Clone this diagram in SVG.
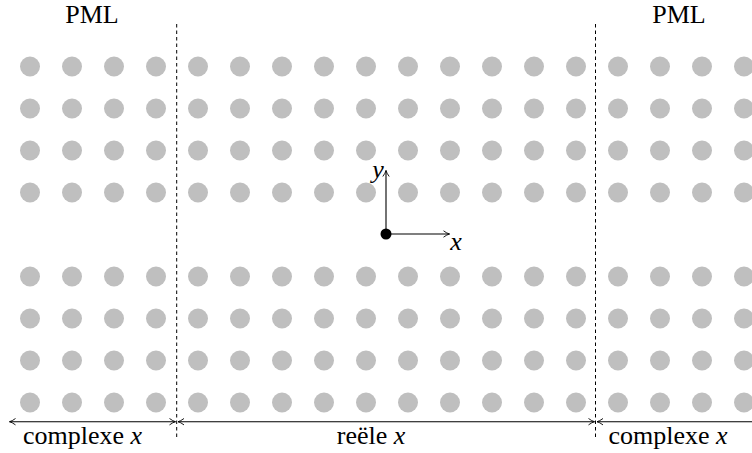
<svg xmlns="http://www.w3.org/2000/svg" width="752" height="453" viewBox="0 0 752 453">
<style>
text{font-family:'Liberation Serif','Times New Roman',serif;font-size:26px;fill:#000}
.it{font-style:italic}
.dot{fill:#bfbfbf}
.dash{stroke:#000;stroke-width:1;stroke-dasharray:3.5 3;fill:none}
.ln{stroke:#000;stroke-width:1.1;fill:none}
</style>
<defs>
<marker id="ar" viewBox="-7 -4 8 8" markerWidth="8" markerHeight="8" refX="0" refY="0" orient="auto-start-reverse" markerUnits="userSpaceOnUse">
<path d="M-6,-3.2 Q-2.5,-0.6 0,0 Q-2.5,0.6 -6,3.2" fill="none" stroke="#000" stroke-width="0.9"/>
</marker>
<circle id="c" r="10" class="dot"/>
<g id="row">
<use href="#c" x="30"/><use href="#c" x="72"/><use href="#c" x="114"/><use href="#c" x="156"/><use href="#c" x="198"/><use href="#c" x="240"/><use href="#c" x="282"/><use href="#c" x="324"/><use href="#c" x="366"/><use href="#c" x="408"/><use href="#c" x="450"/><use href="#c" x="492"/><use href="#c" x="534"/><use href="#c" x="576"/><use href="#c" x="618"/><use href="#c" x="660"/><use href="#c" x="702"/><use href="#c" x="744"/>
</g>
</defs>
<rect width="752" height="453" fill="#fff"/>
<g id="grid">
<use href="#row" y="66.5"/><use href="#row" y="108.5"/><use href="#row" y="150.5"/><use href="#row" y="192.5"/>
<use href="#row" y="276.5"/><use href="#row" y="318.5"/><use href="#row" y="360.5"/><use href="#row" y="402.5"/>
</g>
<g id="connectors">
<line class="dash" x1="176.7" y1="24" x2="176.7" y2="440"/>
<line class="dash" x1="595.5" y1="24" x2="595.5" y2="440"/>
<line class="ln" x1="9.5" y1="421.7" x2="175.5" y2="421.7" marker-start="url(#ar)" marker-end="url(#ar)"/>
<line class="ln" x1="178" y1="421.7" x2="594.5" y2="421.7" marker-start="url(#ar)" marker-end="url(#ar)"/>
<line class="ln" x1="597" y1="421.7" x2="752" y2="421.7" marker-start="url(#ar)"/>
<line class="ln" x1="386" y1="234" x2="386" y2="170.5" marker-end="url(#ar)"/>
<line class="ln" x1="386" y1="234" x2="449.5" y2="234" marker-end="url(#ar)"/>
</g>
<g id="origin"><circle cx="386" cy="234" r="5.5" fill="#000"/></g>
<g id="labels">
<text x="92" y="23" text-anchor="middle">PML</text>
<text x="679" y="23" text-anchor="middle">PML</text>
<text x="82.5" y="444" text-anchor="middle">complexe <tspan class="it">x</tspan></text>
<text x="371" y="444" text-anchor="middle">reële <tspan class="it">x</tspan></text>
<text x="668" y="444" text-anchor="middle">complexe <tspan class="it">x</tspan></text>
<text class="it" x="378" y="178" text-anchor="middle">y</text>
<text class="it" x="456" y="250" text-anchor="middle">x</text>
</g>
</svg>
